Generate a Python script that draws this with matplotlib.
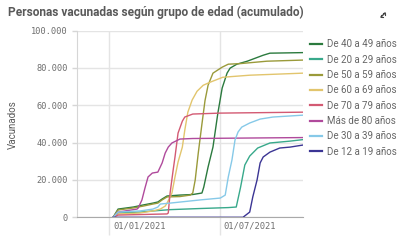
import matplotlib
matplotlib.use('Agg')
import matplotlib.pyplot as plt
import pandas as pd
from matplotlib.lines import Line2D
from matplotlib.transforms import ScaledTranslation

# ---------------- data ----------------
labels = ["De 40 a 49 años", "De 20 a 29 años", "De 50 a 59 años", "De 60 a 69 años",
          "De 70 a 79 años", "Más de 80 años", "De 30 a 39 años", "De 12 a 19 años"]
colors = ["#2b7a3e", "#38a98b", "#9a9a3a", "#e2c56d", "#d35a73", "#b04a9c", "#86c9e8", "#3b3594"]

g40_dates = ["2021-01-07", "2021-01-15", "2021-02-09", "2021-02-25", "2021-03-13", "2021-03-21",
             "2021-03-28", "2021-04-05", "2021-04-26", "2021-05-17", "2021-06-01", "2021-06-04",
             "2021-06-11", "2021-06-19", "2021-06-27", "2021-07-04", "2021-07-12", "2021-07-17",
             "2021-07-28", "2021-08-14", "2021-09-09", "2021-09-20", "2021-11-13"]
g40_vals = [0, 4400, 5500, 6600, 7600, 8200, 9800, 11400, 11900, 12200, 13000, 16200,
            26900, 37600, 55800, 69200, 77200, 79900, 82000, 83600, 86800, 87900, 88200]

g20_dates = ["2021-01-07", "2021-01-15", "2021-02-20", "2021-03-13", "2021-04-10", "2021-05-29",
             "2021-07-14", "2021-07-27", "2021-08-03", "2021-08-10", "2021-08-18", "2021-08-31",
             "2021-09-20", "2021-10-23", "2021-11-13"]
g20_vals = [0, 2300, 2800, 3400, 4100, 4700, 5200, 5500, 16000, 28000, 32800, 37100,
            39800, 40800, 41600]

g50_dates = ["2021-01-07", "2021-01-15", "2021-02-09", "2021-02-25", "2021-03-13", "2021-03-21",
             "2021-03-28", "2021-04-05", "2021-04-26", "2021-05-13", "2021-05-17", "2021-05-21",
             "2021-05-26", "2021-06-01", "2021-06-06", "2021-06-11", "2021-06-19", "2021-07-04",
             "2021-07-14", "2021-08-02", "2021-09-15", "2021-11-13"]
g50_vals = [0, 3900, 5000, 6000, 7100, 7600, 9300, 10900, 11100, 11900, 13000, 20000,
            34400, 50000, 62500, 70700, 77200, 80400, 82000, 82300, 83600, 84200]

g60_dates = ["2021-01-07", "2021-01-15", "2021-02-20", "2021-03-13", "2021-03-25", "2021-04-02",
             "2021-04-05", "2021-04-10", "2021-04-13", "2021-04-18", "2021-04-23", "2021-04-30",
             "2021-05-04", "2021-05-09", "2021-05-16", "2021-05-24", "2021-06-03", "2021-06-14",
             "2021-07-05", "2021-08-18", "2021-11-13"]
g60_vals = [0, 1800, 2300, 3400, 4400, 6000, 7600, 10900, 13000, 21600, 29600, 37600,
            46700, 56300, 62800, 67500, 70700, 72300, 75000, 76100, 77200]

g70_dates = ["2021-01-07", "2021-01-15", "2021-04-05", "2021-04-07", "2021-04-10", "2021-04-15",
             "2021-04-18", "2021-04-23", "2021-04-30", "2021-05-04", "2021-05-17", "2021-07-01",
             "2021-11-13"]
g70_vals = [0, 1200, 1800, 2300, 13000, 25300, 32300, 45100, 51500, 53700, 55300, 55800, 56300]

g80_dates = ["2021-01-07", "2021-01-15", "2021-02-15", "2021-02-17", "2021-02-23", "2021-02-28",
             "2021-03-05", "2021-03-12", "2021-03-21", "2021-03-28", "2021-04-02", "2021-04-07",
             "2021-04-13", "2021-04-26", "2021-05-17", "2021-11-13"]
g80_vals = [0, 2800, 4400, 5000, 9300, 15700, 21600, 23700, 24200, 29100, 34400, 37600,
            39800, 41900, 42200, 42700]

g30_dates = ["2021-01-07", "2021-01-15", "2021-02-20", "2021-03-13", "2021-03-21", "2021-03-25",
             "2021-04-10", "2021-05-29", "2021-07-01", "2021-07-09", "2021-07-14", "2021-07-20",
             "2021-07-25", "2021-07-30", "2021-08-05", "2021-08-18", "2021-09-04", "2021-09-25",
             "2021-11-13"]
g30_vals = [0, 2800, 3400, 4400, 5500, 7100, 7600, 9300, 10300, 11900, 21600, 30700,
            41400, 45700, 48300, 50500, 52600, 53700, 54700]

g12_dates = ["2021-01-07", "2021-08-07", "2021-08-18", "2021-08-23", "2021-08-30", "2021-09-04",
             "2021-09-09", "2021-09-20", "2021-10-06", "2021-10-23", "2021-11-13"]
g12_vals = [0, 0, 2800, 10900, 20000, 29100, 32300, 34900, 37100, 37600, 38700]

series_dates = [g40_dates, g20_dates, g50_dates, g60_dates, g70_dates, g80_dates, g30_dates, g12_dates]
series_vals = [g40_vals, g20_vals, g50_vals, g60_vals, g70_vals, g80_vals, g30_vals, g12_vals]

title = "Personas vacunadas según grupo de edad (acumulado)"
y_title = "Vacunados"
y_ticks = [0, 20000, 40000, 60000, 80000, 100000]
x_ticks = ["2021-01-01", "2021-07-01"]
x_ticklabels = ["01/01/2021", "01/07/2021"]
x_range = ["2020-11-09", "2021-11-13"]

# ---------------- figure ----------------
fig = plt.figure(figsize=(4, 2.4), dpi=100)
ax = fig.add_axes([0.1925, 0.0946, 0.565, 0.778])

ax.set_xlim(pd.Timestamp(x_range[0]), pd.Timestamp(x_range[1]))
ax.set_ylim(0, 100000)

ax.grid(axis='both', color='#e4e4e4', lw=1.0, zorder=0)
ax.set_axisbelow(True)

handles = []
for d, v, c, lab in zip(series_dates, series_vals, colors, labels):
    ax.plot(pd.to_datetime(d), v, color=c, lw=1.0, solid_joinstyle='round', zorder=3)
    handles.append(Line2D([0], [0], color=c, lw=1.6))

for s in ['top', 'right']:
    ax.spines[s].set_visible(False)
ax.spines['left'].set_color('#d6d6d6')
ax.spines['bottom'].set_color('#a9a9a9')

ax.set_yticks(y_ticks)
ax.set_yticklabels([f"{v:,}".replace(',', '.') for v in y_ticks])
ax.set_xticks(pd.to_datetime(x_ticks))
ax.set_xticklabels(x_ticklabels)

ax.tick_params(axis='y', length=3.6, width=1, color='#d6d6d6', pad=2.8,
               labelsize=6.2, labelcolor='#6e6e6e')
ax.tick_params(axis='x', length=13, width=1, color='#e4e4e4', pad=-10,
               labelsize=6.3, labelcolor='#6e6e6e')
for lbl in ax.get_yticklabels() + ax.get_xticklabels():
    lbl.set_fontfamily('DejaVu Sans Mono')
for lbl in ax.get_xticklabels():
    lbl.set_horizontalalignment('left')
    lbl.set_transform(lbl.get_transform() + ScaledTranslation(0.035, 0, fig.dpi_scale_trans))

fig.text(8 / 400, 1 - 12 / 240, title, fontsize=8.6, fontweight='bold', color='#595959',
         family='Roboto', ha='left', va='center')
fig.text(13 / 400, 1 - 125 / 240, y_title, rotation=90, fontsize=7, color='#595959',
         family='Roboto', ha='center', va='center')

# small "expand" icon at the top-right corner (drawn as a shape)
fig.add_artist(Line2D([381 / 400, 385 / 400], [1 - 17 / 240, 1 - 13 / 240],
                      color='#444444', lw=1.0))
fig.add_artist(Line2D([383 / 400, 385 / 400, 385 / 400], [1 - 13 / 240, 1 - 13 / 240, 1 - 15 / 240],
                      color='#444444', lw=0.8))
fig.add_artist(Line2D([381 / 400, 381 / 400, 383 / 400], [1 - 15 / 240, 1 - 17 / 240, 1 - 17 / 240],
                      color='#444444', lw=0.8))

leg = fig.legend(handles, labels, loc='upper left', bbox_to_anchor=(0.775, 0.836),
                 frameon=False, prop={'family': 'Roboto', 'size': 7},
                 handlelength=1.2, handletextpad=0.5, labelspacing=0.55,
                 borderpad=0, borderaxespad=0)
for t in leg.get_texts():
    t.set_color('#666666')

fig.savefig('out.png', dpi=100)
